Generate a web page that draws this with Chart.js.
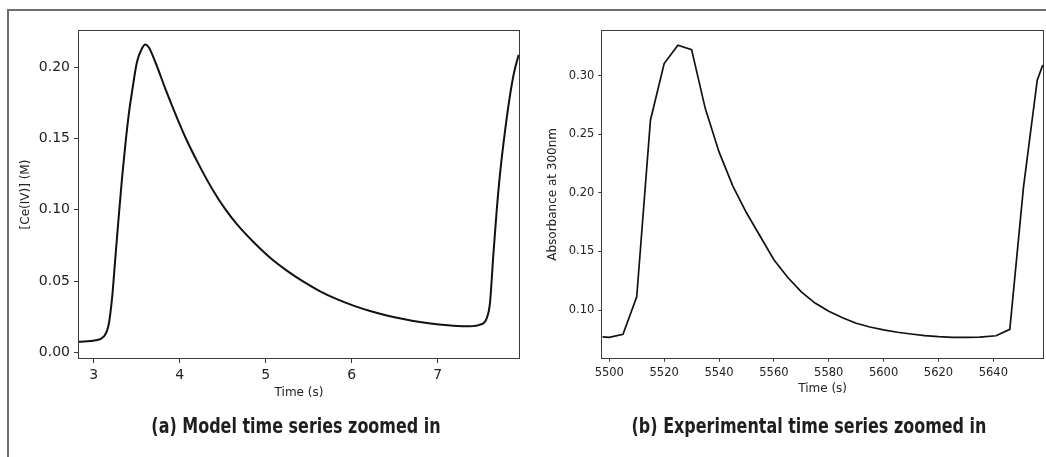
<!DOCTYPE html>
<html>
<head>
<meta charset="utf-8">
<script src="https://cdn.jsdelivr.net/npm/chart.js@4.4.1/dist/chart.umd.min.js"></script>
<style>
  body { margin: 0; background: #fff; width: 1046px; height: 457px; overflow: hidden; position: relative; }
  .frame { position: absolute; left: 7px; top: 9px; width: 1100px; height: 500px; border-left: 2px solid #6e6e6e; border-top: 2px solid #6e6e6e; }
  canvas { position: absolute; top: 0; }
  #modelChart { left: 0; }
  #expChart { left: 522px; }
  .caption { position: absolute; top: 414px; font-family: "Liberation Sans Narrow", "DejaVu Sans Condensed", "Roboto Condensed", sans-serif; font-stretch: condensed; font-weight: bold; font-size: 21px; color: #1e1e1e; white-space: nowrap; transform: translateX(-50%) scaleX(0.845); }
</style>
</head>
<body>
<div class="frame"></div>
<canvas id="modelChart" width="522" height="457"></canvas>
<canvas id="expChart" width="524" height="457"></canvas>
<div class="caption" style="left:296px">(a) Model time series zoomed in</div>
<div class="caption" style="left:809px">(b) Experimental time series zoomed in</div>
<script>
// (a) model: time (s) and [Ce(IV)] (M)
const modelTime = [2.826, 3.020, 3.116, 3.174, 3.214, 3.252, 3.290, 3.330, 3.368, 3.407, 3.446, 3.504, 3.562, 3.600, 3.639,
    3.717, 3.833, 3.949, 4.065, 4.220, 4.375, 4.530, 4.665, 4.858, 5.052, 5.246, 5.439, 5.633, 5.827, 6.020, 6.214,
    6.408, 6.600, 6.794, 6.988, 7.181, 7.375, 7.491, 7.569, 7.607, 7.646, 7.685, 7.724, 7.782, 7.840, 7.887, 7.941];
const modelConc = [0.0077, 0.0087, 0.0112, 0.0194, 0.0380, 0.0660, 0.0940, 0.1220, 0.1452, 0.1662, 0.1825, 0.2035, 0.2129, 0.2157, 0.2140,
    0.2035, 0.1849, 0.1674, 0.1510, 0.1320, 0.1150, 0.1005, 0.0900, 0.0775, 0.0665, 0.0575, 0.0497, 0.0430, 0.0375, 0.0330, 0.0292,
    0.0261, 0.0236, 0.0215, 0.0199, 0.0189, 0.0185, 0.0196, 0.0241, 0.0345, 0.0680, 0.0990, 0.1250, 0.1550, 0.1800, 0.1960, 0.2085];

// (b) experiment: time (s) and absorbance at 300nm
const expTime = [5497.5, 5500, 5505, 5510, 5515, 5520, 5525, 5530, 5535, 5540, 5545, 5550, 5555, 5560, 5565, 5570, 5575,
    5580, 5585, 5590, 5595, 5600, 5605, 5610, 5615, 5620, 5625, 5630, 5635, 5641, 5646, 5651, 5656, 5658];
const expAbs = [0.0772, 0.0767, 0.0793, 0.1113, 0.2619, 0.3102, 0.3258, 0.3221, 0.2718, 0.2349, 0.2060, 0.1830, 0.1630, 0.1430, 0.1280, 0.1155, 0.1060,
    0.0990, 0.0934, 0.0888, 0.0856, 0.0831, 0.0811, 0.0796, 0.0783, 0.0774, 0.0768, 0.0767, 0.0770, 0.0781, 0.0836, 0.2050, 0.2960, 0.3090];

const modelXTicks = [3, 4, 5, 6, 7];
const modelYTicks = [0.00, 0.05, 0.10, 0.15, 0.20];
const expXTicks = [5500, 5520, 5540, 5560, 5580, 5600, 5620, 5640];
const expYTicks = [0.10, 0.15, 0.20, 0.25, 0.30];

// box around the plot area like matplotlib spines
const boxPlugin = {
    id: 'box',
    afterDraw(chart) {
        const a = chart.chartArea;
        const ctx = chart.ctx;
        ctx.save();
        ctx.strokeStyle = '#3a3a3a';
        ctx.lineWidth = 1;
        ctx.strokeRect(Math.round(a.left) - 0.5, Math.round(a.top) - 0.5, Math.round(a.right - a.left) + 1, Math.round(a.bottom - a.top) + 1);
        ctx.restore();
    }
};

function makeChart(id, xs, ys, o) {
    const pts = xs.map((x, i) => ({ x: x, y: ys[i] }));
    const font = { family: 'DejaVu Sans', size: o.tickSize };
    return new Chart(document.getElementById(id), {
        type: 'line',
        data: {
            datasets: [{
                data: pts,
                borderColor: '#111',
                borderWidth: o.lineWidth,
                pointRadius: 0,
                fill: false,
                cubicInterpolationMode: o.smooth ? 'monotone' : 'default',
                tension: 0
            }]
        },
        options: {
            responsive: false,
            animation: false,
            events: [],
            layout: { padding: { left: 0, top: 31, right: 3, bottom: 0 } },
            plugins: { legend: { display: false }, tooltip: { enabled: false } },
            scales: {
                x: {
                    type: 'linear',
                    min: o.xMin, max: o.xMax,
                    afterBuildTicks: s => { s.ticks = o.xTicks.map(v => ({ value: v })); },
                    afterFit: s => { s.height = o.xHeight; },
                    grid: { drawOnChartArea: false, drawTicks: true, tickLength: o.tickLen, color: '#3a3a3a' },
                    border: { display: false },
                    ticks: { autoSkip: false, maxRotation: 0, padding: o.tickPad, color: '#222', font: font,
                        callback: v => o.xFmt(v) },
                    title: { display: true, text: 'Time (s)', color: '#222',
                        font: { family: 'DejaVu Sans', size: 12 }, padding: { top: 0, bottom: o.xTitlePad } }
                },
                y: {
                    type: 'linear',
                    min: o.yMin, max: o.yMax,
                    afterBuildTicks: s => { s.ticks = o.yTicks.map(v => ({ value: v })); },
                    afterFit: s => { s.width = o.yWidth; },
                    grid: { drawOnChartArea: false, drawTicks: true, tickLength: o.tickLen, color: '#3a3a3a' },
                    border: { display: false },
                    ticks: { autoSkip: false, padding: o.tickPad, color: '#222', font: font,
                        callback: v => v.toFixed(2) },
                    title: { display: true, text: o.yTitle, color: '#222',
                        font: { family: 'DejaVu Sans', size: 12 }, padding: { top: o.yTitlePad, bottom: 0 } }
                }
            }
        },
        plugins: [boxPlugin]
    });
}

makeChart('modelChart', modelTime, modelConc, {
    xMin: 2.83, xMax: 7.945, yMin: -0.0037, yMax: 0.2252,
    xTicks: modelXTicks, yTicks: modelYTicks, xFmt: v => String(v),
    yTitle: '[Ce(IV)] (M)', tickSize: 14, tickLen: 5, tickPad: 4,
    xHeight: 99, yWidth: 79, xTitlePad: 57, yTitlePad: 18.6,
    lineWidth: 2, smooth: true
});

makeChart('expChart', expTime, expAbs, {
    xMin: 5497.45, xMax: 5658.1, yMin: 0.0594, yMax: 0.338,
    xTicks: expXTicks, yTicks: expYTicks, xFmt: v => String(v),
    yTitle: 'Absorbance at 300nm', tickSize: 11.5, tickLen: 4, tickPad: 4,
    xHeight: 99.3, yWidth: 80.3, xTitlePad: 60.8, yTitlePad: 24.1,
    lineWidth: 1.7, smooth: false
});
</script>
</body>
</html>
